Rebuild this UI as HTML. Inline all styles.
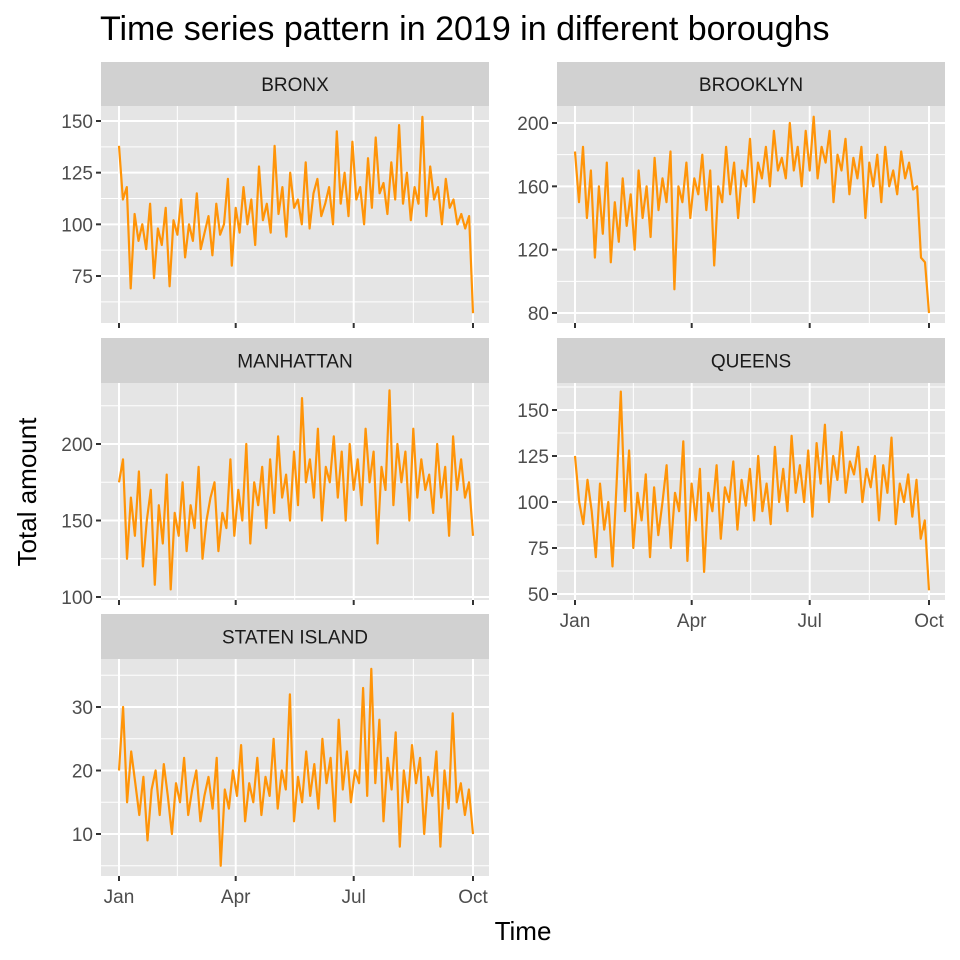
<!DOCTYPE html>
<html><head><meta charset="utf-8">
<style>
body{margin:0;background:#fff;}
svg{display:block;font-family:"Liberation Sans",Arial,sans-serif;}
</style></head>
<body>
<svg id="chart" width="960" height="960" xmlns="http://www.w3.org/2000/svg">
<text x="100" y="40" font-size="34" fill="#000">Time series pattern in 2019 in different boroughs</text>
<text x="523" y="940" font-size="26" text-anchor="middle" fill="#000">Time</text>
<text x="36" y="492" font-size="26" text-anchor="middle" fill="#000" transform="rotate(-90 36 492)">Total amount</text>
</svg>
<script>
const monthLabels = ["Jan","Apr","Jul","Oct"];
const monthDays = [0,90,181,273];
const bronxValues = [138,112,118,69,105,92,100,88,110,74,98,90,108,70,102,95,112,84,100,92,115,88,96,104,85,110,95,100,122,80,108,96,118,100,112,90,128,102,110,96,138,105,118,94,125,108,112,100,130,98,115,122,104,110,118,100,145,110,125,104,140,112,118,100,132,108,142,115,120,105,130,112,148,110,125,102,118,110,152,104,128,112,118,100,122,108,112,100,105,98,104,57];
const brooklynValues = [182,150,185,140,170,115,160,130,175,112,150,125,165,135,155,120,170,140,160,128,178,145,165,150,182,95,160,150,175,140,165,155,180,145,170,110,160,150,185,155,175,140,170,160,190,150,175,165,185,160,195,170,178,165,200,170,185,160,195,170,204,165,185,175,195,150,180,170,190,155,178,165,185,140,175,160,180,150,185,160,170,155,182,165,175,158,160,115,112,80];
const manhattanValues = [175,190,125,165,140,182,120,150,170,108,160,135,180,105,155,140,175,130,160,145,185,125,150,165,175,130,155,145,190,140,170,150,200,135,175,160,185,145,190,155,205,165,180,150,195,160,230,175,190,165,210,150,185,175,205,165,195,150,200,170,190,160,210,175,195,135,185,170,235,160,200,175,195,150,210,165,190,170,180,155,200,165,185,140,205,170,190,165,175,140];
const queensValues = [125,100,88,112,95,70,110,85,100,65,110,160,95,128,75,105,90,115,70,108,82,100,120,75,105,95,133,68,110,90,118,62,105,95,120,80,108,100,122,85,112,98,118,90,125,95,110,88,130,100,118,95,136,105,120,100,128,92,132,110,142,100,125,112,138,105,122,115,130,100,118,108,125,90,120,105,135,88,110,100,115,92,112,80,90,52];
const statenValues = [20,30,15,23,18,13,19,9,17,20,13,21,16,10,18,15,22,13,17,20,12,16,19,14,22,5,17,14,20,16,24,12,18,15,22,13,19,16,25,14,20,17,32,12,19,15,23,16,21,14,25,18,22,12,28,17,23,15,20,18,33,16,36,18,28,12,22,17,26,8,20,15,24,18,22,10,19,16,23,8,20,14,29,15,18,13,17,10];
const bronxTicks = [75,100,125,150];
const brooklynTicks = [80,120,160,200];
const manhattanTicks = [100,150,200];
const queensTicks = [50,75,100,125,150];
const statenTicks = [10,20,30];

const NS="http://www.w3.org/2000/svg";
const svg=document.getElementById('chart');
function mk(tag,attrs,parent){const e=document.createElementNS(NS,tag);for(const k in attrs)e.setAttribute(k,attrs[k]);(parent||svg).appendChild(e);return e;}

const panels=[
 {name:"BRONX",slug:"bronx",vals:bronxValues,ticks:bronxTicks,x0:101,x1:489,sy:62,py:106,pb:323,xlab:false},
 {name:"BROOKLYN",slug:"brooklyn",vals:brooklynValues,ticks:brooklynTicks,x0:557,x1:945,sy:62,py:106,pb:323,xlab:false},
 {name:"MANHATTAN",slug:"manhattan",vals:manhattanValues,ticks:manhattanTicks,x0:101,x1:489,sy:338,py:383,pb:600,xlab:false},
 {name:"QUEENS",slug:"queens",vals:queensValues,ticks:queensTicks,x0:557,x1:945,sy:338,py:383,pb:600,xlab:true},
 {name:"STATEN ISLAND",slug:"staten-island",vals:statenValues,ticks:statenTicks,x0:101,x1:489,sy:614,py:659,pb:876,xlab:true}
];
const yRefs={bronx:[150,121,75,276],brooklyn:[200,123,80,313],manhattan:[200,444,100,597],queens:[150,410,50,594],"staten-island":[30,707,10,834]};

panels.forEach(p=>{
  const g=mk('g',{});
  
  
  const strip=mk('rect',{x:p.x0,y:p.sy,width:p.x1-p.x0,height:p.py-p.sy,fill:'#D1D1D1'},g);
  
  
  const st=mk('text',{x:(p.x0+p.x1)/2,y:(p.sy+p.py)/2+7,'font-size':19,'text-anchor':'middle',fill:'#1A1A1A'},g);
  st.textContent=p.name;
  
  
  const bg=mk('rect',{x:p.x0,y:p.py,width:p.x1-p.x0,height:p.pb-p.py,fill:'#E5E5E5'},g);
  
  
  const r=yRefs[p.slug];
  const ys=v=>r[3]+(v-r[2])*(r[1]-r[3])/(r[0]-r[2]);
  const xj=p.x0+18, xo=p.x1-16;
  const xs=d=>xj+d*(xo-xj)/273;
  const step=p.ticks[1]-p.ticks[0];
  for(let v=p.ticks[0]-step*1.5; v<=p.ticks[p.ticks.length-1]+step*1.5; v+=step){
    const y=ys(v); if(y>p.py&&y<p.pb) mk('line',{x1:p.x0,x2:p.x1,y1:y,y2:y,stroke:'#fff','stroke-width':1},g);
  }
  for(let i=0;i<monthDays.length-1;i++){const x=xs((monthDays[i]+monthDays[i+1])/2);mk('line',{x1:x,x2:x,y1:p.py,y2:p.pb,stroke:'#fff','stroke-width':1},g);}
  p.ticks.forEach(v=>{const y=ys(v);mk('line',{x1:p.x0,x2:p.x1,y1:y,y2:y,stroke:'#fff','stroke-width':2},g);
    mk('line',{x1:p.x0-5,x2:p.x0,y1:y,y2:y,stroke:'#333','stroke-width':2},g);
    const t=mk('text',{x:p.x0-8,y:y+7,'font-size':19,'text-anchor':'end',fill:'#4D4D4D'},g);t.textContent=v;
    
    });
  monthDays.forEach((d,i)=>{const x=xs(d);mk('line',{x1:x,x2:x,y1:p.py,y2:p.pb,stroke:'#fff','stroke-width':2},g);
    mk('line',{x1:x,x2:x,y1:p.pb,y2:p.pb+5,stroke:'#333','stroke-width':2},g);
    if(p.xlab){const t=mk('text',{x:x,y:p.pb+27,'font-size':19,'text-anchor':'middle',fill:'#4D4D4D'},g);t.textContent=monthLabels[i];
      
      }});
  const n=p.vals.length;
  const pts=p.vals.map((v,i)=>xs(i*273/(n-1)).toFixed(1)+','+ys(v).toFixed(1)).join(' ');
  const line=mk('polyline',{points:pts,fill:'none',stroke:'#FF9408','stroke-width':2.2,'stroke-linejoin':'round'},g);
  
  
});
</script>
</body></html>
